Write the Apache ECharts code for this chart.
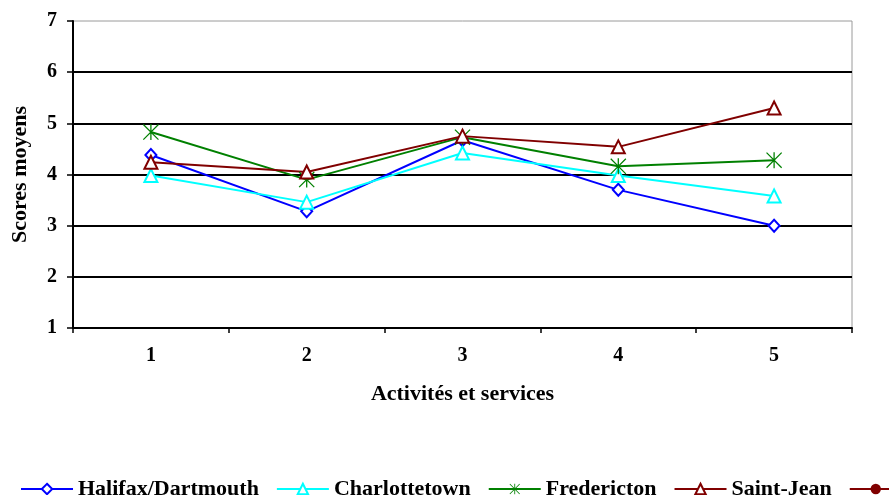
<!DOCTYPE html>
<html>
<head>
<meta charset="utf-8">
<script src="https://cdn.jsdelivr.net/npm/echarts@6/dist/echarts.min.js"></script>
<style>
  html, body { margin: 0; padding: 0; background: #fff; }
  #chart { width: 889px; height: 495px; }
</style>
</head>
<body>
<div id="chart"></div>
<script>
// Activity/service numbers on the x axis
const categories = ['1', '2', '3', '4', '5'];

// Mean scores per city
const halifax = [4.38, 3.28, 4.67, 3.70, 3.00];
const charlottetown = [3.98, 3.46, 4.42, 3.98, 3.58];
const fredericton = [4.83, 3.90, 4.73, 4.16, 4.28];
const saintJean = [4.24, 4.05, 4.75, 4.54, 5.30];
const stJohns = [];

const seriesNames = ['Halifax/Dartmouth', 'Charlottetown', 'Fredericton', 'Saint-Jean', "St. John's"];

// Six-armed asterisk marker
const starPath = 'path://M9.2 0 L10.8 0 L10.8 20 L9.2 20 Z M0 1.1 L1.1 0 L20 18.9 L18.9 20 Z M18.9 0 L20 1.1 L1.1 20 L0 18.9 Z';

const font = '"Liberation Serif", "Times New Roman", serif';

function lineSeries(name, data, color, symbol, size) {
  return {
    name: name,
    type: 'line',
    data: data,
    symbol: symbol,
    symbolSize: size,
    symbolKeepAspect: true,
    showAllSymbol: true,
    lineStyle: { color: color, width: 2 },
    itemStyle: { color: color, borderWidth: 2 },
    emphasis: { disabled: true },
    animation: false
  };
}

const chart = echarts.init(document.getElementById('chart'), null, { renderer: 'canvas' });
chart.setOption({
  backgroundColor: '#fff',
  animation: false,
  grid: {
    left: 73, right: 37, top: 21, bottom: 167,
    show: true, borderColor: '#9a9a9a', borderWidth: 1, backgroundColor: 'transparent'
  },
  legend: {
    left: 15, top: 473, width: 1400,
    itemWidth: 52, itemHeight: 13, itemGap: 17,
    textStyle: { fontFamily: font, fontWeight: 'bold', fontSize: 22, color: '#000' },
    data: seriesNames
  },
  xAxis: {
    type: 'category',
    data: categories,
    boundaryGap: true,
    name: 'Activités et services',
    nameLocation: 'middle',
    nameGap: 55,
    nameTextStyle: { fontFamily: font, fontWeight: 'bold', fontSize: 22, color: '#000' },
    axisLine: { lineStyle: { color: '#000', width: 2 } },
    axisTick: { show: true, inside: false, length: 5, lineStyle: { color: '#000', width: 1.5 } },
    axisLabel: { fontFamily: font, fontWeight: 'bold', fontSize: 20, color: '#000', margin: 18 }
  },
  yAxis: {
    type: 'value',
    min: 1, max: 7, interval: 1,
    name: 'Scores moyens',
    nameLocation: 'middle',
    nameRotate: 90,
    nameGap: 42,
    nameTextStyle: { fontFamily: font, fontWeight: 'bold', fontSize: 22, color: '#000' },
    axisLine: { show: true, lineStyle: { color: '#000', width: 2 } },
    axisTick: { show: true, inside: false, length: 6, lineStyle: { color: '#000', width: 1.5 } },
    axisLabel: { fontFamily: font, fontWeight: 'bold', fontSize: 20, color: '#000', margin: 16 },
    splitLine: { show: true, showMinLine: false, showMaxLine: false, lineStyle: { color: '#000', width: 2 } }
  },
  series: [
    lineSeries(seriesNames[0], halifax, '#0000ff', 'emptyDiamond', [11, 12]),
    lineSeries(seriesNames[1], charlottetown, '#00ffff', 'emptyTriangle', 13),
    lineSeries(seriesNames[2], fredericton, '#008000', starPath, 16),
    lineSeries(seriesNames[3], saintJean, '#800000', 'emptyTriangle', 13),
    lineSeries(seriesNames[4], stJohns, '#800000', 'circle', 10)
  ]
});
</script>
</body>
</html>
